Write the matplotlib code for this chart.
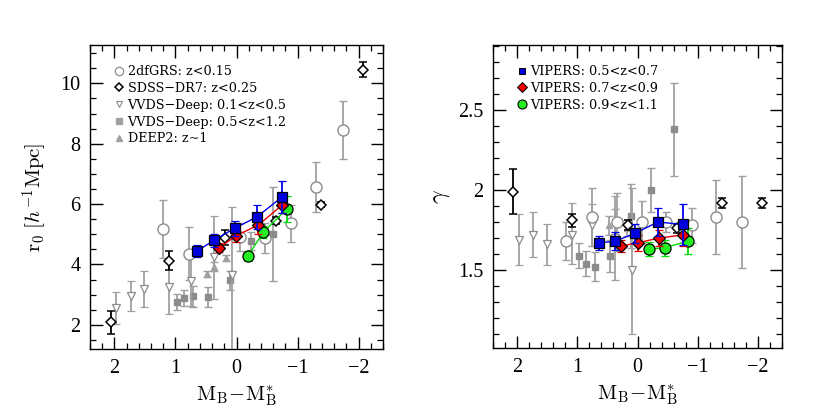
import matplotlib
matplotlib.use("Agg")
import matplotlib.pyplot as plt
from matplotlib.ticker import MultipleLocator, FuncFormatter
from matplotlib.lines import Line2D

plt.rcParams['font.family'] = ['Liberation Serif', 'DejaVu Serif']
plt.rcParams['mathtext.fontset'] = 'cm'

GRAY = '#8c8c8c'
EGRAY = '#a0a0a0'

# ---------------- Left panel: r0 ----------------
tdf_x = [1.20, 0.77, -0.06, -0.47, -0.90, -1.31, -1.74]
tdf_r0 = [5.18, 4.36, 4.91, 4.89, 5.36, 6.56, 8.46]
tdf_r0_err = [0.95, 0.88, 0.45, 0.5, 0.6, 0.83, 0.96]

sdss_x = [2.06, 1.10, 0.185, -0.65, -1.38, -2.08]
sdss_r0 = [2.09, 4.13, 4.88, 5.45, 5.98, 10.45]
sdss_r0_err = [0.38, 0.3, 0.25, 0.12, 0.08, 0.25]

vvl_x = [1.97, 1.73, 1.52, 1.10, 0.75, 0.37, 0.08]
vvl_r0 = [2.56, 2.96, 3.19, 3.25, 3.46, 4.25, 3.64]
vvl_r0_lo = [0.53, 0.5, 0.6, 0.9, 0.85, 1.4, 2.6]
vvl_r0_hi = [0.53, 0.5, 0.6, 0.9, 0.85, 1.35, 2.26]

vvh_x = [0.98, 0.86, 0.71, 0.46, 0.11, -0.24, -0.60]
vvh_r0 = [2.76, 2.90, 2.95, 2.93, 3.47, 4.78, 5.01]
vvh_r0_err = [0.27, 0.27, 0.35, 0.33, 0.3, 0.3, 1.55]

deep_x = [0.48, 0.37, 0.17]
deep_r0 = [3.68, 3.93, 4.20]
deep_r0_err = [0.1, 0.15, 0.1]

vip1_x = [0.65, 0.37, 0.03, -0.33, -0.75]
vip1_r0 = [4.44, 4.80, 5.20, 5.57, 6.24]
vip1_r0_err = [0.19, 0.21, 0.25, 0.4, 0.52]

vip2_x = [0.28, 0.01, -0.36, -0.75]
vip2_r0 = [4.55, 4.95, 5.31, 5.97]
vip2_r0_err = [0.15, 0.2, 0.3, 0.25]

vip3_x = [-0.19, -0.44, -0.83]
vip3_r0 = [4.29, 5.07, 5.85]
vip3_r0_err = [0.17, 0.2, 0.43]

# ---------------- Right panel: gamma ----------------
tdf_gx = [1.19, 0.75, 0.34, -0.07, -0.48, -0.91, -1.31, -1.74]
tdf_g = [1.68, 1.83, 1.80, 1.80, 1.80, 1.78, 1.83, 1.80]
tdf_g_err = [0.12, 0.18, 0.18, 0.13, 0.06, 0.11, 0.23, 0.29]

sdss_gx = [2.07, 1.09, 0.16, -0.65, -1.40, -2.07]
sdss_g = [1.99, 1.81, 1.78, 1.76, 1.92, 1.92]
sdss_g_err = [0.14, 0.04, 0.03, 0.03, 0.03, 0.03]

vvl_gx = [1.97, 1.73, 1.51, 1.08, 0.75, 0.37, 0.09]
vvl_g = [1.69, 1.72, 1.66, 1.72, 1.78, 1.70, 1.50]
vvl_g_lo = [0.16, 0.14, 0.13, 0.18, 0.13, 0.26, 0.40]
vvl_g_hi = [0.16, 0.14, 0.13, 0.2, 0.13, 0.26, 0.51]

vvh_gx = [0.97, 0.85, 0.71, 0.45, 0.11, -0.23, -0.61]
vvh_g = [1.59, 1.54, 1.52, 1.59, 1.84, 2.00, 2.38]
vvh_g_err = [0.08, 0.08, 0.09, 0.1, 0.2, 0.14, 0.29]

deep_gx = [0.48, 0.37, 0.17]
deep_g = [1.78, 1.80, 1.76]
deep_g_err = [0.06, 0.08, 0.05]

vip1_gx = [0.64, 0.37, 0.04, -0.34, -0.75]
vip1_g = [1.67, 1.68, 1.73, 1.80, 1.785]
vip1_g_err = [0.045, 0.055, 0.06, 0.09, 0.13]

vip2_gx = [0.27, 0.00, -0.36, -0.76]
vip2_g = [1.65, 1.67, 1.70, 1.72]
vip2_g_err = [0.04, 0.05, 0.05, 0.07]

vip3_gx = [-0.19, -0.45, -0.84]
vip3_g = [1.63, 1.64, 1.68]
vip3_g_err = [0.045, 0.05, 0.08]

legend_left = ['2dfGRS: z<0.15', 'SDSS\u2212DR7: z<0.25', 'VVDS\u2212Deep: 0.1<z<0.5',
               'VVDS\u2212Deep: 0.5<z<1.2', 'DEEP2: z~1']
legend_right = ['VIPERS: 0.5<z<0.7', 'VIPERS: 0.7<z<0.9', 'VIPERS: 0.9<z<1.1']

fig = plt.figure(figsize=(8.30, 4.17), dpi=100)
axL = fig.add_axes([90/830, 1-349/417, 293/830, 304/417])
axR = fig.add_axes([493/830, 1-348/417, 289/830, 303/417])

def eb(ax, x, y, yerr, fmt, color, ecolor, mfc, mec, ms, mew=1.0, z=2, ls='none', lc=None):
    ax.errorbar(x, y, yerr=yerr, fmt=fmt, color=lc if lc else color, ecolor=ecolor,
                mfc=mfc, mec=mec, ms=ms, mew=mew, elinewidth=1.3, capsize=3.2,
                capthick=1.3, zorder=z, ls=ls, lw=1.0)

def panel(ax, d):
    eb(ax, *d['vvh'], 's', GRAY, EGRAY, GRAY, GRAY, 4.2, z=2)
    eb(ax, *d['deep'], '^', GRAY, EGRAY, EGRAY, EGRAY, 4.5, z=2)
    eb(ax, *d['vvl'], 'v', GRAY, EGRAY, 'white', GRAY, 6, mew=0.9, z=3)
    eb(ax, *d['tdf'], 'o', GRAY, EGRAY, 'white', GRAY, 8, mew=1.0, z=3)
    eb(ax, *d['sdss'], 'D', 'black', 'black', 'white', 'black', 4.6, mew=1.1, z=4)
    eb(ax, *d['v3'], 'o', '#00dd00', '#00dd00', '#22ee22', 'black', 8, mew=0.9, z=5, ls='-', lc='#00dd00')
    eb(ax, *d['v2'], 'D', '#ee0000', '#ee0000', '#ee0000', 'black', 6.5, mew=0.9, z=6, ls='-', lc='#ee0000')
    eb(ax, *d['v1'], 's', '#0000ee', '#0000ee', '#0000dd', 'black', 7, mew=0.9, z=7, ls='-', lc='#0000ee')

dL = {'tdf': (tdf_x, tdf_r0, tdf_r0_err), 'sdss': (sdss_x, sdss_r0, sdss_r0_err),
      'vvl': (vvl_x, vvl_r0, [vvl_r0_lo, vvl_r0_hi]), 'vvh': (vvh_x, vvh_r0, vvh_r0_err),
      'deep': (deep_x, deep_r0, deep_r0_err), 'v1': (vip1_x, vip1_r0, vip1_r0_err),
      'v2': (vip2_x, vip2_r0, vip2_r0_err), 'v3': (vip3_x, vip3_r0, vip3_r0_err)}
dR = {'tdf': (tdf_gx, tdf_g, tdf_g_err), 'sdss': (sdss_gx, sdss_g, sdss_g_err),
      'vvl': (vvl_gx, vvl_g, [vvl_g_lo, vvl_g_hi]), 'vvh': (vvh_gx, vvh_g, vvh_g_err),
      'deep': (deep_gx, deep_g, deep_g_err), 'v1': (vip1_gx, vip1_g, vip1_g_err),
      'v2': (vip2_gx, vip2_g, vip2_g_err), 'v3': (vip3_gx, vip3_g, vip3_g_err)}
panel(axL, dL)
panel(axR, dR)

LEGFONT = {'family': 'DejaVu Serif', 'size': 9.2}
hL = [Line2D([], [], ls='none', marker='o', mfc='white', mec=GRAY, ms=6, mew=0.9),
      Line2D([], [], ls='none', marker='D', mfc='white', mec='black', ms=4, mew=1.1),
      Line2D([], [], ls='none', marker='v', mfc='white', mec=GRAY, ms=5, mew=0.8),
      Line2D([], [], ls='none', marker='s', mfc=EGRAY, mec=EGRAY, ms=4),
      Line2D([], [], ls='none', marker='^', mfc=EGRAY, mec=EGRAY, ms=4.5)]
axL.legend(hL, legend_left, loc='upper left', bbox_to_anchor=(0.065, 0.955), frameon=False,
           handlelength=0.6, handletextpad=0.35, labelspacing=0.3, prop=LEGFONT, borderpad=0)
hR = [Line2D([], [], ls='none', marker='s', mfc='#0000dd', mec='black', ms=5, mew=0.7),
      Line2D([], [], ls='none', marker='D', mfc='#ee0000', mec='black', ms=5, mew=0.7),
      Line2D([], [], ls='none', marker='o', mfc='#22ee22', mec='black', ms=6.5, mew=0.8)]
axR.legend(hR, legend_right, loc='upper left', bbox_to_anchor=(0.065, 0.955), frameon=False,
           handlelength=0.6, handletextpad=0.35, labelspacing=0.3, prop=LEGFONT, borderpad=0)

fmt = FuncFormatter(lambda v, p: ('%g' % v).replace('-', '\u2212'))
for ax in (axL, axR):
    ax.set_xlim(2.4, -2.4)
    ax.xaxis.set_major_locator(MultipleLocator(1))
    ax.xaxis.set_minor_locator(MultipleLocator(0.2))
    ax.tick_params(which='both', direction='in', top=True, right=True, labelsize=14.5, pad=7)
    ax.tick_params(which='major', length=9, width=1.0)
    ax.tick_params(which='minor', length=4.5, width=0.9)
    ax.xaxis.set_major_formatter(fmt)
    ax.yaxis.set_major_formatter(fmt)
    for s in ax.spines.values():
        s.set_linewidth(1.0)
    ax.set_xlabel(r'$\mathrm{M_B\!-\!M_B^{*}}$', fontsize=15, labelpad=4)

axL.set_ylim(1.2, 11.27)
axL.yaxis.set_major_locator(MultipleLocator(2))
axL.yaxis.set_minor_locator(MultipleLocator(0.5))
axL.set_ylabel(r'$\mathrm{r_0}\ [h^{-1}\mathrm{Mpc}]$', fontsize=15, labelpad=8)

axR.set_ylim(1.013, 2.906)
axR.yaxis.set_major_locator(MultipleLocator(0.5))
axR.yaxis.set_minor_locator(MultipleLocator(0.1))
axR.set_ylabel(r'$\gamma$', fontsize=17, labelpad=4)

fig.savefig('out.png', dpi=100)
